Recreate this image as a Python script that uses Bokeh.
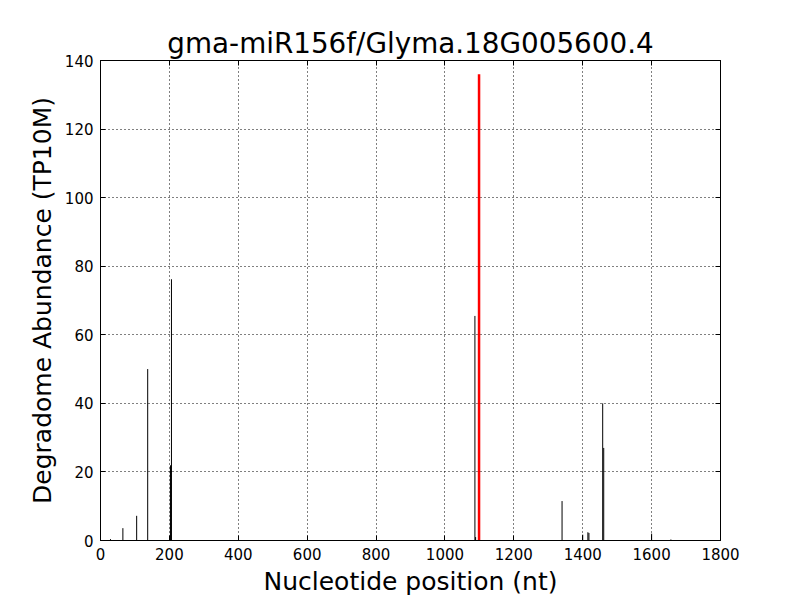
from bokeh.plotting import figure
from bokeh.models import LinearAxis, FixedTicker, Range1d
from bokeh.embed import file_html
from bokeh.resources import INLINE

# data
positions = [29, 65, 105, 137, 203, 204, 206, 1087, 1089, 1340, 1400, 1415, 1418, 1458, 1461, 1600, 1656]
abundance = [0.4, 3.6, 7.2, 50, 21.7, 22, 76.2, 65.5, 1.0, 11.5, 1.7, 2.4, 2.2, 40, 27, 2.0, 0.3]
target_pos = [1099]
target_abund = [136]

x_ticks = [0, 200, 400, 600, 800, 1000, 1200, 1400, 1600, 1800]
y_ticks = [0, 20, 40, 60, 80, 100, 120, 140]

FONT = "DejaVu Sans"

p = figure(frame_width=620, frame_height=480, min_border_left=100, min_border_right=72,
           min_border_top=60, min_border_bottom=58,
           x_range=Range1d(0, 1800), y_range=Range1d(0, 140),
           output_backend="svg", toolbar_location=None,
           title="gma-miR156f/Glyma.18G005600.4")

p.title.text_font = FONT
p.title.text_font_size = "27.8px"
p.title.text_font_style = "normal"
p.title.align = "center"
p.title.text_color = "black"
p.title.standoff = 2

p.segment(x0=positions, y0=[0]*len(positions), x1=positions, y1=abundance,
          line_color="black", line_width=1)
p.segment(x0=target_pos, y0=[0], x1=target_pos, y1=target_abund,
          line_color="red", line_width=2.5)

for ax in [p.xaxis[0], p.yaxis[0]]:
    ax.major_label_text_font = FONT
    ax.major_label_text_font_size = "15px"
    ax.major_label_text_color = "black"
    ax.axis_label_text_font = FONT
    ax.axis_label_text_font_size = "25px"
    ax.axis_label_text_font_style = "normal"
    ax.axis_label_text_color = "black"
    ax.major_tick_in = 5
    ax.major_tick_out = 0
    ax.minor_tick_line_color = None
    ax.axis_line_color = "black"
    ax.major_tick_line_color = "black"

p.xaxis[0].ticker = FixedTicker(ticks=x_ticks)
p.yaxis[0].ticker = FixedTicker(ticks=y_ticks)
p.xaxis[0].axis_label = "Nucleotide position (nt)"
p.yaxis[0].axis_label = "Degradome Abundance (TP10M)"
p.xaxis[0].major_label_standoff = 7
p.yaxis[0].major_label_standoff = 7
p.xaxis[0].axis_label_standoff = 4
p.yaxis[0].axis_label_standoff = 5

top = LinearAxis(ticker=FixedTicker(ticks=x_ticks), major_label_text_font_size="0px",
                 major_tick_in=5, major_tick_out=0, minor_tick_line_color=None,
                 major_label_text_alpha=0, major_label_standoff=0)
right = LinearAxis(ticker=FixedTicker(ticks=y_ticks), major_label_text_font_size="0px",
                   major_tick_in=5, major_tick_out=0, minor_tick_line_color=None,
                   major_label_text_alpha=0, major_label_standoff=0)
p.add_layout(top, "above")
p.add_layout(right, "right")

p.xgrid.ticker = FixedTicker(ticks=x_ticks)
p.ygrid.ticker = FixedTicker(ticks=y_ticks)
for g in [p.xgrid[0], p.ygrid[0]]:
    g.grid_line_color = "black"
    g.grid_line_dash = "1 3"
    g.grid_line_width = 1
    g.grid_line_alpha = 1

p.outline_line_color = "black"
p.outline_line_alpha = 1
p.background_fill_color = "white"
p.border_fill_color = "white"

open("out.html", "w").write(file_html(p, INLINE))
